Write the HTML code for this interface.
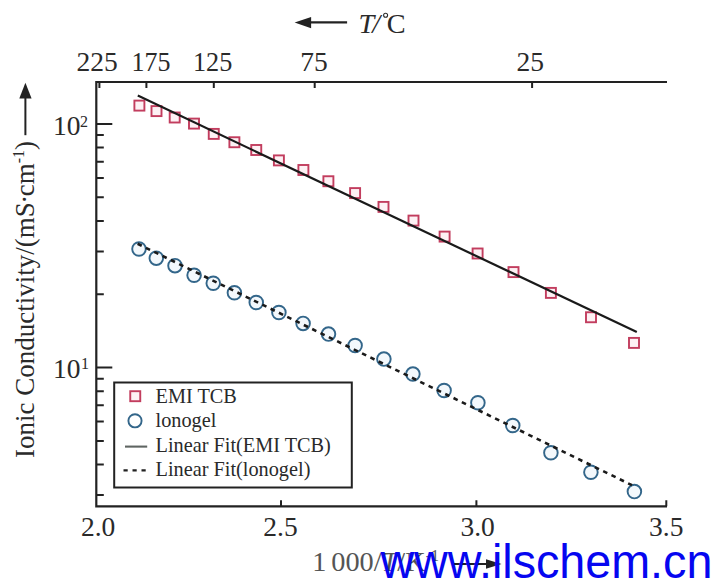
<!DOCTYPE html>
<html><head><meta charset="utf-8"><style>
html,body{margin:0;padding:0;background:#fff;}
body{width:720px;height:587px;overflow:hidden;font-family:"Liberation Serif",serif;}
svg{display:block;}
</style></head><body>
<svg width="720" height="587" viewBox="0 0 720 587">
<rect width="720" height="587" fill="#fff"/>
<path d="M96.3,506.3 V82.0 M95.2,82.0 H667.0 M95.2,506.3 H667.0" stroke="#222" stroke-width="2.2" fill="none"/>
<path d="M99.4,82.0 v6 M146.4,82.0 v6 M213.8,82.0 v6 M314.7,82.0 v6 M532.1,82.0 v6 " stroke="#222" stroke-width="2" fill="none"/>
<path d="M281,506.3 v-6 M476.4,506.3 v-6 M666.3,506.3 v-6 " stroke="#222" stroke-width="2" fill="none"/>
<path d="M96.3,124.0 h16 M96.3,367.6 h16 M96.3,495.0 h7.5 M96.3,464.5 h7.5 M96.3,440.9 h7.5 M96.3,421.6 h7.5 M96.3,405.3 h7.5 M96.3,391.2 h7.5 M96.3,378.7 h7.5 M96.3,294.3 h7.5 M96.3,251.4 h7.5 M96.3,220.9 h7.5 M96.3,197.3 h7.5 M96.3,178.0 h7.5 M96.3,161.7 h7.5 M96.3,147.6 h7.5 M96.3,135.1 h7.5 " stroke="#222" stroke-width="2" fill="none"/>
<rect x="134.40" y="100.60" width="10" height="10" fill="#fdf1f4" stroke="#c23d5e" stroke-width="1.9"/>
<rect x="151.50" y="106.10" width="10" height="10" fill="#fdf1f4" stroke="#c23d5e" stroke-width="1.9"/>
<rect x="169.70" y="112.50" width="10" height="10" fill="#fdf1f4" stroke="#c23d5e" stroke-width="1.9"/>
<rect x="189.00" y="118.60" width="10" height="10" fill="#fdf1f4" stroke="#c23d5e" stroke-width="1.9"/>
<rect x="208.75" y="128.90" width="10" height="10" fill="#fdf1f4" stroke="#c23d5e" stroke-width="1.9"/>
<rect x="229.40" y="137.25" width="10" height="10" fill="#fdf1f4" stroke="#c23d5e" stroke-width="1.9"/>
<rect x="251.25" y="145.00" width="10" height="10" fill="#fdf1f4" stroke="#c23d5e" stroke-width="1.9"/>
<rect x="273.90" y="155.40" width="10" height="10" fill="#fdf1f4" stroke="#c23d5e" stroke-width="1.9"/>
<rect x="298.40" y="165.00" width="10" height="10" fill="#fdf1f4" stroke="#c23d5e" stroke-width="1.9"/>
<rect x="323.40" y="176.25" width="10" height="10" fill="#fdf1f4" stroke="#c23d5e" stroke-width="1.9"/>
<rect x="350.10" y="188.10" width="10" height="10" fill="#fdf1f4" stroke="#c23d5e" stroke-width="1.9"/>
<rect x="378.50" y="201.90" width="10" height="10" fill="#fdf1f4" stroke="#c23d5e" stroke-width="1.9"/>
<rect x="408.50" y="215.60" width="10" height="10" fill="#fdf1f4" stroke="#c23d5e" stroke-width="1.9"/>
<rect x="439.60" y="231.60" width="10" height="10" fill="#fdf1f4" stroke="#c23d5e" stroke-width="1.9"/>
<rect x="472.60" y="248.50" width="10" height="10" fill="#fdf1f4" stroke="#c23d5e" stroke-width="1.9"/>
<rect x="508.50" y="267.10" width="10" height="10" fill="#fdf1f4" stroke="#c23d5e" stroke-width="1.9"/>
<rect x="545.90" y="287.90" width="10" height="10" fill="#fdf1f4" stroke="#c23d5e" stroke-width="1.9"/>
<rect x="586.00" y="312.25" width="10" height="10" fill="#fdf1f4" stroke="#c23d5e" stroke-width="1.9"/>
<rect x="629.00" y="337.90" width="10" height="10" fill="#fdf1f4" stroke="#c23d5e" stroke-width="1.9"/>
<circle cx="139" cy="249" r="6.8" fill="#f3f8fc" stroke="#33668a" stroke-width="1.9"/>
<circle cx="156.3" cy="258.2" r="6.8" fill="#f3f8fc" stroke="#33668a" stroke-width="1.9"/>
<circle cx="175" cy="265.7" r="6.8" fill="#f3f8fc" stroke="#33668a" stroke-width="1.9"/>
<circle cx="194.1" cy="275.25" r="6.8" fill="#f3f8fc" stroke="#33668a" stroke-width="1.9"/>
<circle cx="213.25" cy="283.25" r="6.8" fill="#f3f8fc" stroke="#33668a" stroke-width="1.9"/>
<circle cx="234.4" cy="292.75" r="6.8" fill="#f3f8fc" stroke="#33668a" stroke-width="1.9"/>
<circle cx="256.25" cy="302.5" r="6.8" fill="#f3f8fc" stroke="#33668a" stroke-width="1.9"/>
<circle cx="278.9" cy="312.5" r="6.8" fill="#f3f8fc" stroke="#33668a" stroke-width="1.9"/>
<circle cx="303.1" cy="323.4" r="6.8" fill="#f3f8fc" stroke="#33668a" stroke-width="1.9"/>
<circle cx="328.5" cy="334.1" r="6.8" fill="#f3f8fc" stroke="#33668a" stroke-width="1.9"/>
<circle cx="355.1" cy="345.5" r="6.8" fill="#f3f8fc" stroke="#33668a" stroke-width="1.9"/>
<circle cx="383.9" cy="359.1" r="6.8" fill="#f3f8fc" stroke="#33668a" stroke-width="1.9"/>
<circle cx="412.9" cy="374.1" r="6.8" fill="#f3f8fc" stroke="#33668a" stroke-width="1.9"/>
<circle cx="444.1" cy="390.5" r="6.8" fill="#f3f8fc" stroke="#33668a" stroke-width="1.9"/>
<circle cx="477.9" cy="402.75" r="6.8" fill="#f3f8fc" stroke="#33668a" stroke-width="1.9"/>
<circle cx="512.75" cy="425.5" r="6.8" fill="#f3f8fc" stroke="#33668a" stroke-width="1.9"/>
<circle cx="550.9" cy="452.75" r="6.8" fill="#f3f8fc" stroke="#33668a" stroke-width="1.9"/>
<circle cx="590.9" cy="472.25" r="6.8" fill="#f3f8fc" stroke="#33668a" stroke-width="1.9"/>
<circle cx="634.4" cy="491.6" r="6.8" fill="#f3f8fc" stroke="#33668a" stroke-width="1.9"/>
<line x1="137.8" y1="95.6" x2="636.8" y2="332.1" stroke="#1a1a1a" stroke-width="2.2"/>
<line x1="137.6" y1="243.77" x2="632" y2="485.2" stroke="#1a1a1a" stroke-width="2.6" stroke-dasharray="4.6 4.652"/>
<rect x="114.2" y="382.5" width="237.6" height="105" fill="none" stroke="#222" stroke-width="2"/>
<rect x="130.25" y="391.2" width="10" height="10" fill="#fdf1f4" stroke="#c23d5e" stroke-width="1.9"/>
<circle cx="135" cy="420.8" r="6.6" fill="none" stroke="#33668a" stroke-width="1.9"/>
<line x1="125" y1="446.6" x2="147.2" y2="446.6" stroke="#5f6562" stroke-width="2.1"/>
<line x1="123.5" y1="470.3" x2="146.5" y2="470.3" stroke="#222" stroke-width="2.2" stroke-dasharray="4.2 4.8"/>
<g font-family="'Liberation Serif', serif" font-size="20.3" fill="#2a2a2a"><text x="155.5" y="402.8">EMI TCB</text><text x="155.5" y="427">lonogel</text><text x="155.5" y="451.6">Linear Fit(EMI TCB)</text><text x="155.5" y="476.2">Linear Fit(lonogel)</text></g>
<g font-family="'Liberation Serif', serif" font-size="27.5" fill="#2a2a2a">
<text x="97" y="71" text-anchor="middle">225</text>
<text x="151.0" y="71" text-anchor="middle" textLength="39.0" lengthAdjust="spacingAndGlyphs">175</text>
<text x="212.6" y="71" text-anchor="middle" textLength="39.3" lengthAdjust="spacingAndGlyphs">125</text>
<text x="314" y="71" text-anchor="middle">75</text>
<text x="530.3" y="71" text-anchor="middle">25</text>
<text x="98.1" y="535.7" text-anchor="middle">2.0</text>
<text x="280.5" y="535.7" text-anchor="middle">2.5</text>
<text x="477.6" y="535.7" text-anchor="middle">3.0</text>
<text x="666.3" y="535.7" text-anchor="middle">3.5</text>
<text x="80.6" y="135.3" text-anchor="end">10</text><text x="80" y="127" font-size="16">2</text>
<text x="80.6" y="377.8" text-anchor="end">10</text><text x="81" y="368.7" font-size="16">1</text>
</g>
<text transform="translate(34.1,458) rotate(-90)" font-family="'Liberation Serif', serif" font-size="27" fill="#2a2a2a">Ionic Conductivity/(mS<tspan dx="-1.5">·</tspan><tspan dx="-1.5">cm</tspan><tspan font-size="16" dy="-10">-1</tspan><tspan dy="10">)</tspan></text>
<path d="M25.4,135.2 V96" stroke="#222" stroke-width="2"/>
<path d="M25.4,82.7 L31.6,98.4 L19.3,98.4 Z" fill="#222"/>
<path d="M309,22.4 H347.1" stroke="#222" stroke-width="2.2"/>
<path d="M294.6,22.6 L311.1,17.1 L311.1,28.2 Z" fill="#222"/>
<g font-family="'Liberation Serif', serif" font-size="28.3" fill="#2a2a2a"><text x="358.6" y="33" font-style="italic">T</text><text x="372.3" y="33" font-style="italic">/</text><text x="386.8" y="33">C</text></g>
<circle cx="385.6" cy="15.2" r="2" fill="none" stroke="#2a2a2a" stroke-width="1.1"/>
<g font-family="'Liberation Serif', serif" font-size="28.3" fill="#555"><text x="312.3" y="571.4">1</text><text x="331.3" y="571.4">000/<tspan font-style="italic">T</tspan>/K<tspan font-size="16" dy="-10">-1</tspan></text></g>
<path d="M452,564 H492" stroke="#222" stroke-width="2.2"/>
<path d="M501.5,564 L486,559.3 L486,568.8 Z" fill="#222"/>
<text x="380.4" y="577.6" font-family="'Liberation Sans', sans-serif" font-size="47.4" fill="#0606f0" textLength="332" lengthAdjust="spacingAndGlyphs">www.ilschem.cn</text>
</svg>
</body></html>
